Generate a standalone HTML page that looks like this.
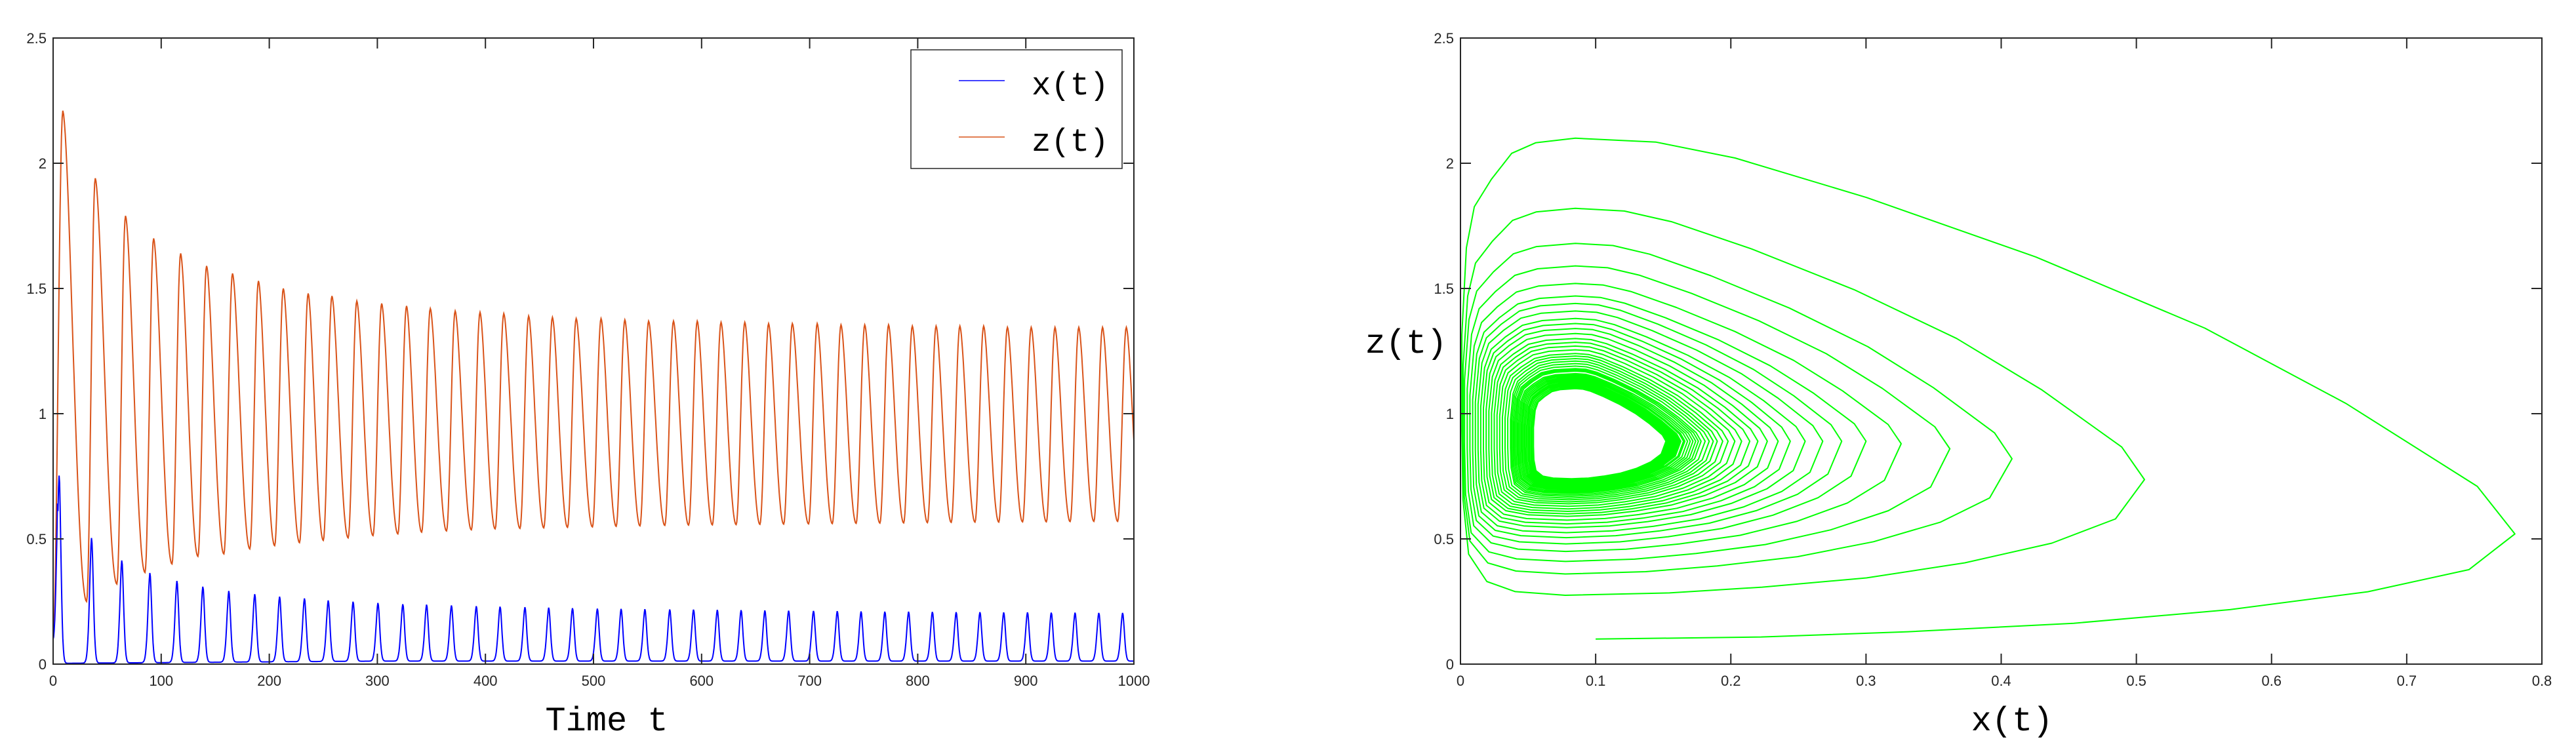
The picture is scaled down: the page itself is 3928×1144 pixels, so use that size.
<!DOCTYPE html>
<html><head><meta charset="utf-8"><style>
html,body{margin:0;padding:0;background:#fff;}
svg{display:block;}
text{font-family:"Liberation Sans",sans-serif;fill:#262626;}
.mono{font-family:"Liberation Mono",monospace;fill:#000;}
</style></head><body>
<svg id="fig" width="3928" height="1144" viewBox="0 0 3928 1144" xmlns="http://www.w3.org/2000/svg">
<rect x="0" y="0" width="3928" height="1144" fill="#fff"/>
<g id="left"></g>
<g id="right"></g>
</svg>
<script>
// ===== Time series data =====
const peakTimes = [9,39,67,93,118,142,166,190,213,236,258,281,304,327,349,372,395,417,440,462,484,507,529,551,574,596,618,640,662,684,707,729,751,773,795,817,839,861,883,905,927,949,971,993];
const zPeaks = [2.21,1.94,1.79,1.70,1.64,1.59,1.56,1.53,1.50,1.48,1.47,1.45,1.44,1.43,1.42,1.41,1.405,1.40,1.39,1.385,1.38,1.38,1.375,1.37,1.37,1.37,1.365,1.365,1.36,1.36,1.36,1.355,1.355,1.355,1.35,1.35,1.35,1.35,1.345,1.345,1.345,1.345,1.345,1.345];
const zTroughs = [0.10,0.25,0.32,0.366,0.40,0.43,0.44,0.46,0.473,0.485,0.494,0.504,0.513,0.52,0.527,0.532,0.536,0.54,0.542,0.544,0.546,0.548,0.55,0.552,0.554,0.555,0.556,0.557,0.558,0.559,0.56,0.561,0.562,0.563,0.564,0.565,0.566,0.567,0.567,0.568,0.568,0.569,0.57,0.57,0.57];
const xPeaks = [0.755,0.505,0.415,0.365,0.333,0.31,0.293,0.28,0.27,0.263,0.255,0.25,0.245,0.24,0.238,0.235,0.232,0.23,0.228,0.226,0.224,0.222,0.221,0.22,0.219,0.218,0.217,0.216,0.215,0.214,0.213,0.212,0.211,0.21,0.21,0.209,0.208,0.208,0.207,0.207,0.206,0.206,0.205,0.205];
const xTicksL = [0,100,200,300,400,500,600,700,800,900,1000];
const yTicks = [0,0.5,1,1.5,2,2.5];
const yTickLabels = ["0","0.5","1","1.5","2","2.5"];
// ===== Phase portrait data (one entry per loop) =====
const loopTipX = [0.78,0.506,0.408,0.362,0.326,0.300,0.282,0.268,0.255,0.244,0.235,0.227,0.220,0.214,0.208,0.203,0.198,0.194,0.190,0.187,0.184,0.181,0.178,0.176,0.174,0.172,0.170,0.168,0.166,0.165,0.163,0.162,0.161,0.160,0.159,0.158,0.157,0.156,0.155,0.155,0.154,0.153,0.153,0.152];
const loopTipZ = [0.52,0.737,0.82,0.86,0.88,0.89,0.89,0.89,0.89,0.89,0.89,0.89,0.89,0.89,0.89,0.89,0.89,0.89,0.89,0.89,0.89,0.89,0.89,0.89,0.89,0.89,0.89,0.89,0.89,0.89,0.89,0.89,0.89,0.89,0.89,0.89,0.89,0.89,0.89,0.89,0.89,0.89,0.89,0.89];
const loopTopZ = [2.10,1.82,1.68,1.59,1.52,1.47,1.44,1.41,1.38,1.36,1.34,1.32,1.30,1.285,1.27,1.255,1.24,1.23,1.22,1.21,1.20,1.19,1.18,1.175,1.17,1.16,1.155,1.15,1.145,1.14,1.135,1.13,1.125,1.12,1.12,1.115,1.11,1.11,1.105,1.105,1.10,1.10,1.10,1.10];
const loopBotZ = [0.10,0.275,0.36,0.41,0.45,0.48,0.505,0.525,0.545,0.56,0.575,0.59,0.60,0.61,0.62,0.63,0.64,0.648,0.656,0.663,0.67,0.676,0.682,0.687,0.692,0.697,0.701,0.705,0.709,0.713,0.716,0.719,0.722,0.725,0.727,0.729,0.731,0.733,0.735,0.736,0.737,0.738,0.739,0.74,0.74];
const loopLeftX = [0.001,0.002,0.003,0.005,0.007,0.009,0.011,0.013,0.015,0.017,0.019,0.021,0.023,0.025,0.027,0.029,0.031,0.033,0.035,0.037,0.038,0.039,0.040,0.041,0.042,0.043,0.044,0.045,0.046,0.047,0.048,0.048,0.049,0.049,0.050,0.050,0.051,0.051,0.052,0.052,0.053,0.053,0.053,0.054];
const xTicksR = [0,0.1,0.2,0.3,0.4,0.5,0.6,0.7,0.8];

const NS="http://www.w3.org/2000/svg";
function mk(parent,tag,attrs){const e=document.createElementNS(NS,tag);for(const k in attrs)e.setAttribute(k,attrs[k]);parent.appendChild(e);return e;}

function drawAxes(g,L,R,T,B,xt,xlab,sx,sy){
  const frame=mk(g,'rect',{x:L,y:T,width:R-L,height:B-T,fill:'none',stroke:'#262626','stroke-width':2});
  
  
  xt.forEach((v,i)=>{
    const x=sx(v);
    mk(g,'line',{x1:x,y1:B,x2:x,y2:B-16,stroke:'#262626','stroke-width':2});
    mk(g,'line',{x1:x,y1:T,x2:x,y2:T+16,stroke:'#262626','stroke-width':2});
    const t=mk(g,'text',{x:x,y:1046,'font-size':22,'text-anchor':'middle'});
    t.textContent=xlab[i];
    
    
  });
  yTicks.forEach((v,i)=>{
    const y=sy(v);
    mk(g,'line',{x1:L,y1:y,x2:L+16,y2:y,stroke:'#262626','stroke-width':2});
    mk(g,'line',{x1:R,y1:y,x2:R-16,y2:y,stroke:'#262626','stroke-width':2});
    const t=mk(g,'text',{x:L-10,y:y+8,'font-size':22,'text-anchor':'end'});
    t.textContent=yTickLabels[i];
    
    
  });
}

// ===== Left chart =====
(function(){
  const g=document.getElementById('left');
  const L=81,R=1729,T=58,B=1013;
  const sx=t=>L+(t/1000)*(R-L);
  const sy=v=>B-(v/2.5)*(B-T);
  // z(t)
  let zp=[];
  const rise=8;
  for(let k=0;k<peakTimes.length;k++){
    const tr=(k===0)?0:peakTimes[k]-rise, tp=peakTimes[k];
    const m=zTroughs[k], M=zPeaks[k];
    const n=14;
    for(let j=0;j<=n;j++){const s=j/n;const v=m+(M-m)*(0.5-0.5*Math.cos(Math.PI*s));zp.push([tr+(tp-tr)*s,v]);}
    const nextTr=(k+1<peakTimes.length)?peakTimes[k+1]-rise:peakTimes[k]+(peakTimes[k]-peakTimes[k-1])-rise;
    const m2=zTroughs[k+1];
    const n2=30;
    for(let j=1;j<n2;j++){const s=j/n2;const tt=tp+(nextTr-tp)*s;if(tt>1000)break;
      const v=m2+(M-m2)*(0.5+0.5*Math.cos(Math.PI*Math.pow(s,0.85)));zp.push([tt,v]);}
  }
  zp=zp.filter(p=>p[0]<=1000);
  const zl=mk(g,'polyline',{points:zp.map(p=>sx(p[0]).toFixed(1)+','+sy(p[1]).toFixed(1)).join(' '),fill:'none',stroke:'#D95319','stroke-width':2});
  
  
  // x(t)
  const xp=[];
  for(let t=0;t<=1000;t+=0.5){
    const base=0.003+0.009*Math.min(1,t/300);
    let v=base;
    for(let k=0;k<peakTimes.length;k++){
      const c=peakTimes[k]-3.4;const d=t-c;
      if(Math.abs(d)<14){const sg=d<0?2.6:2.3;v=Math.max(v,base+(xPeaks[k]-base)*Math.exp(-Math.pow(Math.abs(d)/sg,1.8)));}
    }
    if(t<4.4){v=Math.max(v,0.1+(xPeaks[0]-0.1)*(t/4.4)*(t/4.4));}
    xp.push([t,v]);
  }
  const xl=mk(g,'polyline',{points:xp.map(p=>sx(p[0]).toFixed(1)+','+sy(p[1]).toFixed(1)).join(' '),fill:'none',stroke:'#0000ff','stroke-width':2});
  
  
  drawAxes(g,L,R,T,B,xTicksL,xTicksL.map(String),sx,sy);
  const xt=mk(g,'text',{x:925,y:1114,'font-size':52,'text-anchor':'middle',class:'mono'});
  xt.textContent='Time t';
  
  
  // legend
  const lg=mk(g,'g',{});
  
  
  mk(lg,'rect',{x:1389,y:76,width:322,height:181,fill:'#fff',stroke:'#262626','stroke-width':1.5});
  mk(lg,'line',{x1:1462,y1:123,x2:1532,y2:123,stroke:'#0000ff','stroke-width':1.5});
  mk(lg,'line',{x1:1462,y1:209,x2:1532,y2:209,stroke:'#D95319','stroke-width':1.5});
  const t1=mk(lg,'text',{x:1573,y:144,'font-size':49,class:'mono'});t1.textContent='x(t)';
  
  
  const t2=mk(lg,'text',{x:1573,y:230,'font-size':49,class:'mono'});t2.textContent='z(t)';
  
  
})();

// ===== Right chart =====
(function(){
  const g=document.getElementById('right');
  const L=2227,R=3876,T=58,B=1013;
  const sx=x=>L+(x/0.8)*(R-L);
  const sy=v=>B-(v/2.5)*(B-T);
  const segA=[[0,0],[0.18,0.02],[0.34,0.07],[0.52,0.15],[0.69,0.28],[0.84,0.45],[0.95,0.66],[1,1]];
  const segB=[[1,0],[0.96,0.12],[0.82,0.33],[0.67,0.52],[0.49,0.70],[0.31,0.85],[0.17,0.95],[0.086,0.99],[0,1]];
  const segC=[[1,1],[0.65,0.99],[0.44,0.967],[0.26,0.91],[0.11,0.85],[0.04,0.76],[0,0.57],[0,0.36],[0.01,0.21],[0.06,0.09],[0.22,0.03],[0.47,0.008],[0.91,0]];
  const pts=[];
  const topX=0.085;
  let bx=0.1;
  for(let i=0;i<loopTipX.length;i++){
    const zb=loopBotZ[i],xt=loopTipX[i],zt=loopTipZ[i],zT=loopTopZ[i],xL=loopLeftX[i],zbn=loopBotZ[i+1];
    segA.forEach(p=>pts.push([bx+(xt-bx)*p[0],zb+(zt-zb)*p[1]]));
    segB.forEach(p=>pts.push([topX+(xt-topX)*p[0],zt+(zT-zt)*p[1]]));
    segC.forEach(p=>pts.push([xL+(topX-xL)*p[0],zbn+(zT-zbn)*p[1]]));
    bx=xL+(topX-xL)*0.91;
  }
  const pl=mk(g,'polyline',{points:pts.map(p=>sx(p[0]).toFixed(1)+','+sy(p[1]).toFixed(1)).join(' '),fill:'none',stroke:'#00ff00','stroke-width':2,'stroke-linejoin':'round'});
  
  
  drawAxes(g,L,R,T,B,xTicksR,xTicksR.map(String),sx,sy);
  const xt=mk(g,'text',{x:3068,y:1114,'font-size':52,'text-anchor':'middle',class:'mono'});
  xt.textContent='x(t)';
  
  
  const yt=mk(g,'text',{x:2144,y:538,'font-size':52,'text-anchor':'middle',class:'mono'});
  yt.textContent='z(t)';
  
  
})();
</script>
</body></html>
